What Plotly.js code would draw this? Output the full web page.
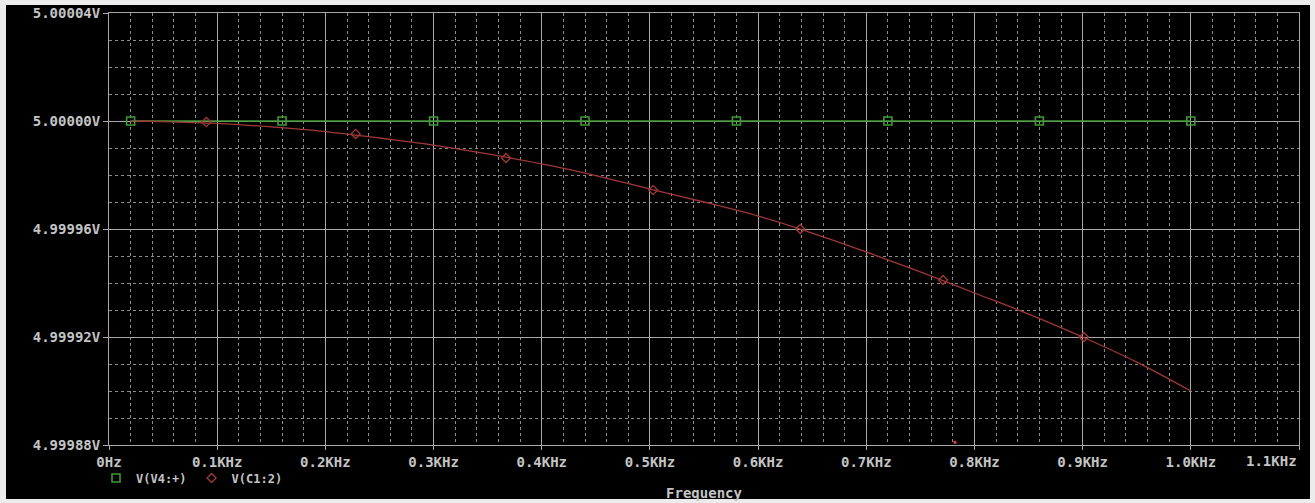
<!DOCTYPE html>
<html>
<head>
<meta charset="utf-8">
<script src="https://cdn.plot.ly/plotly-3.0.1.min.js"></script>
<style>
  html, body { margin: 0; padding: 0; background: #ececec; }
  #chart { width: 1315px; height: 503px; }
</style>
</head>
<body>
<div id="chart"></div>
<script>
// ---- data ----
const seriesNames = ["V(V4:+)", "V(C1:2)"];

// V(V4:+) : flat 5 V source
const v4Freq = [20, 160, 300, 440, 580, 720, 860, 1000];
const v4Volt = [5.0, 5.0, 5.0, 5.0, 5.0, 5.0, 5.0, 5.0];
const v4MarkFreq = [20, 160, 300, 440, 580, 720, 860, 1000];
const v4MarkVolt = [5.0, 5.0, 5.0, 5.0, 5.0, 5.0, 5.0, 5.0];

// V(C1:2) : capacitor node, slowly falling with frequency
const c1Freq = [20, 50, 100, 150, 200, 250, 300, 350, 400, 450, 500,
                550, 600, 650, 700, 750, 800, 850, 900, 950, 1000];
const c1Volt = [5.0000000, 4.9999998, 4.9999991, 4.9999978, 4.9999961,
                4.9999937, 4.9999911, 4.9999878, 4.9999841, 4.9999798,
                4.9999748, 4.9999700, 4.9999648, 4.9999585, 4.9999515,
                4.9999441, 4.9999363, 4.9999285, 4.9999200, 4.9999107,
                4.9999000];
const c1MarkFreq = [90, 228, 367, 503, 639, 771, 901];
const c1MarkVolt = [4.9999996, 4.9999952, 4.9999863, 4.9999744,
                    4.9999600, 4.9999411, 4.9999200];

// small stray red mark near the bottom axis
const strayFreq = [782];
const strayVolt = [4.999881];

// axis ticks
const xTickVals = [0, 100, 200, 300, 400, 500, 600, 700, 800, 900, 1000, 1100];
const xTickText = ["0Hz", "0.1KHz", "0.2KHz", "0.3KHz", "0.4KHz", "0.5KHz",
                   "0.6KHz", "0.7KHz", "0.8KHz", "0.9KHz", "1.0KHz", "1.1KHz"];
const yTickVals = [4.99988, 4.99992, 4.99996, 5.00000, 5.00004];
const yTickText = ["4.99988V", "4.99992V", "4.99996V", "5.00000V", "5.00004V"];
const xTitle = "Frequency";

// ---- styling ----
const GREEN = "#3f9a35";
const RED = "#a03838";
const TXT = "#c4c4c4";
const MONO = "DejaVu Sans Mono, Liberation Mono, monospace";

const traces = [
  { x: v4Freq, y: v4Volt, mode: "lines", line: { color: GREEN, width: 1.3 },
    showlegend: false, hoverinfo: "skip" },
  { x: c1Freq, y: c1Volt, mode: "lines", line: { color: RED, width: 1.3, shape: "spline" },
    showlegend: false, hoverinfo: "skip" },
  { x: v4MarkFreq, y: v4MarkVolt, mode: "markers", name: seriesNames[0],
    marker: { symbol: "square-open", size: 8, color: GREEN, line: { width: 1.6, color: GREEN } } },
  { x: c1MarkFreq, y: c1MarkVolt, mode: "markers", name: seriesNames[1],
    marker: { symbol: "diamond-open", size: 7, color: RED, line: { width: 1.3, color: RED } } },
  { x: strayFreq, y: strayVolt, mode: "markers", showlegend: false, hoverinfo: "skip",
    marker: { symbol: "square", size: 3, color: "#d04040" } }
];

const L = 109, R = 16, T = 13, B = 57, W = 1315, H = 503;
const pw = W - L - R, ph = H - T - B;
const px = (v) => (v - L) / pw;           // pixel x -> paper x
const py = (v) => (H - B - v) / ph;       // pixel y -> paper y

// last x tick label sits right-aligned against the plot edge
const lastIdx = xTickText.length - 1;
const xTickTextShown = xTickText.map((t, i) => (i === lastIdx ? "" : t));
const TICKFONT = { family: MONO, size: 14, color: TXT, weight: "bold" };

const layout = {
  width: W, height: H,
  margin: { l: L, r: R, t: T, b: B, pad: 0 },
  paper_bgcolor: "#ececec",
  plot_bgcolor: "#000000",
  font: { family: MONO, color: TXT, size: 14, weight: "bold" },
  shapes: [
    { type: "rect", xref: "paper", yref: "paper", layer: "below",
      x0: px(6), x1: px(1310), y0: py(500), y1: py(5),
      fillcolor: "#000000", line: { width: 0 } }
  ],
  annotations: [
    { x: xTickVals[lastIdx], xref: "x", y: py(462), yref: "paper",
      text: xTickText[lastIdx], showarrow: false, xanchor: "right", yanchor: "middle",
      font: TICKFONT }
  ],
  xaxis: {
    range: [0, 1100], autorange: false, fixedrange: true,
    tickmode: "array", tickvals: xTickVals, ticktext: xTickTextShown,
    tickfont: TICKFONT,
    ticks: "outside", ticklen: 4, tickcolor: "#a8a8a8",
    showgrid: true, gridcolor: "#a8a8a8", gridwidth: 1,
    showline: true, linecolor: "#a8a8a8", linewidth: 1, mirror: true,
    zeroline: false,
    minor: { dtick: 20, tick0: 0, showgrid: true, gridcolor: "#8c8c8c",
             griddash: "3px,3px", gridwidth: 1, ticks: "" },
    title: { text: xTitle, standoff: 19,
             font: { family: MONO, size: 14, color: TXT, weight: "bold" } }
  },
  yaxis: {
    range: [4.99988, 5.00004], autorange: false, fixedrange: true,
    tickmode: "array", tickvals: yTickVals, ticktext: yTickText,
    tickfont: TICKFONT,
    ticks: "outside", ticklen: 5, tickcolor: "#a8a8a8",
    showgrid: true, gridcolor: "#a8a8a8", gridwidth: 1,
    showline: true, linecolor: "#a8a8a8", linewidth: 1, mirror: true,
    zeroline: false,
    minor: { dtick: 0.00001, tick0: 4.99988, showgrid: true, gridcolor: "#8c8c8c",
             griddash: "3px,3px", gridwidth: 1, ticks: "" }
  },
  legend: {
    orientation: "h", x: px(96), xanchor: "left", y: py(478), yanchor: "middle",
    bgcolor: "rgba(0,0,0,0)", borderwidth: 0,
    font: { family: MONO, size: 12, color: TXT, weight: "bold" },
    itemwidth: 30, tracegroupgap: 0
  },
  showlegend: true,
  hovermode: false
};

Plotly.newPlot("chart", traces, layout, { displayModeBar: false, staticPlot: true });
</script>
</body>
</html>
